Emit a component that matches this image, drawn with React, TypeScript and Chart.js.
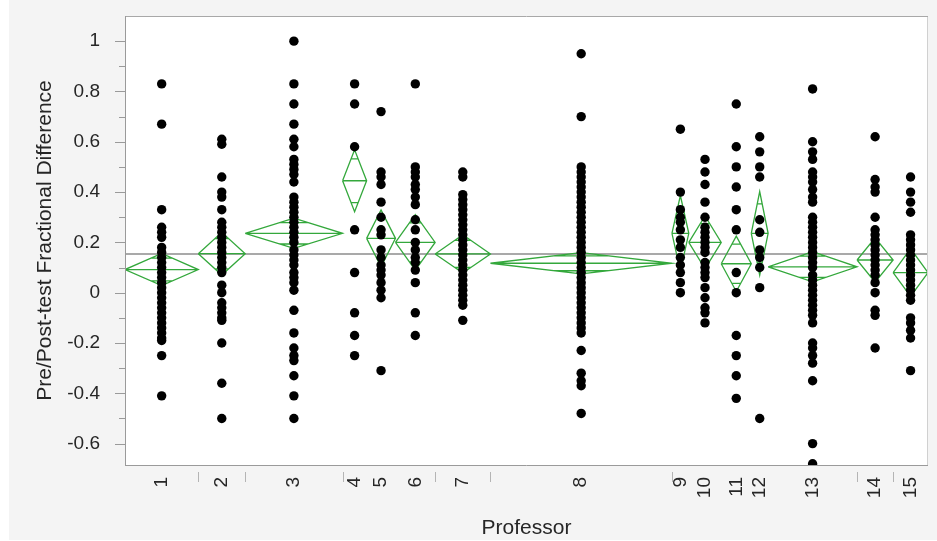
import React, { useEffect, useRef } from "react";
import { Chart, registerables } from "chart.js";

Chart.register(...registerables);

// ---- data ----
const professors = ["1", "2", "3", "4", "5", "6", "7", "8", "9", "10", "11", "12", "13", "14", "15"];
const groupCounts = [61, 39, 81, 20, 24, 33, 46, 151, 14, 27, 25, 14, 74, 30, 29];
const groupMeans = [0.092, 0.155, 0.236, 0.445, 0.216, 0.2, 0.154, 0.117, 0.236, 0.2, 0.115, 0.236, 0.103, 0.13, 0.08];
const ciHalfWidths = [0.064, 0.085, 0.06, 0.123, 0.113, 0.11, 0.076, 0.042, 0.15, 0.105, 0.11, 0.166, 0.06, 0.088, 0.095];
const grandMean = 0.154;

const p1 = [0.83, 0.67, 0.33, 0.26, 0.24, 0.22, 0.18, 0.16, 0.14, 0.12, 0.1, 0.08, 0.06, 0.04, 0.02, 0, -0.02, -0.04, -0.06, -0.08, -0.1, -0.12, -0.14, -0.16, -0.18, -0.19, -0.25, -0.41];
const p2 = [0.61, 0.59, 0.46, 0.4, 0.38, 0.33, 0.28, 0.26, 0.24, 0.22, 0.2, 0.18, 0.16, 0.14, 0.12, 0.1, 0.08, 0.03, 0, -0.04, -0.06, -0.08, -0.1, -0.11, -0.2, -0.36, -0.5];
const p3 = [1, 0.83, 0.75, 0.67, 0.61, 0.58, 0.53, 0.51, 0.49, 0.47, 0.44, 0.38, 0.36, 0.34, 0.32, 0.3, 0.28, 0.26, 0.24, 0.22, 0.2, 0.17, 0.15, 0.13, 0.11, 0.08, 0.06, 0.04, 0.01, -0.07, -0.16, -0.22, -0.25, -0.27, -0.33, -0.41, -0.5];
const p4 = [0.83, 0.75, 0.58, 0.25, 0.08, -0.08, -0.17, -0.25];
const p5 = [0.72, 0.48, 0.46, 0.43, 0.36, 0.3, 0.25, 0.23, 0.17, 0.14, 0.11, 0.09, 0.07, 0.04, 0.01, -0.02, -0.31];
const p6 = [0.83, 0.5, 0.48, 0.46, 0.43, 0.41, 0.38, 0.35, 0.29, 0.25, 0.2, 0.17, 0.14, 0.12, 0.09, 0.04, -0.08, -0.17];
const p7 = [0.48, 0.46, 0.39, 0.37, 0.35, 0.33, 0.31, 0.29, 0.27, 0.25, 0.23, 0.21, 0.19, 0.17, 0.15, 0.13, 0.11, 0.09, 0.07, 0.05, 0.03, 0.01, -0.01, -0.03, -0.05, -0.11];
const p8 = [0.95, 0.7, 0.5, 0.48, 0.46, 0.44, 0.42, 0.4, 0.38, 0.36, 0.34, 0.32, 0.3, 0.28, 0.26, 0.24, 0.22, 0.2, 0.18, 0.16, 0.14, 0.12, 0.1, 0.08, 0.06, 0.04, 0.02, 0, -0.02, -0.04, -0.06, -0.08, -0.1, -0.12, -0.14, -0.16, -0.23, -0.32, -0.35, -0.37, -0.48];
const p9 = [0.65, 0.4, 0.33, 0.3, 0.28, 0.25, 0.21, 0.18, 0.14, 0.11, 0.08, 0.04, 0];
const p10 = [0.53, 0.48, 0.43, 0.36, 0.3, 0.26, 0.24, 0.22, 0.2, 0.18, 0.16, 0.12, 0.1, 0.08, 0.06, 0.02, -0.02, -0.06, -0.08, -0.12];
const p11 = [0.75, 0.58, 0.5, 0.42, 0.33, 0.25, 0.08, 0, -0.17, -0.25, -0.33, -0.42];
const p12 = [0.62, 0.56, 0.5, 0.46, 0.29, 0.24, 0.17, 0.14, 0.1, 0.02, -0.5];
const p13 = [0.81, 0.6, 0.56, 0.53, 0.48, 0.46, 0.44, 0.41, 0.38, 0.36, 0.3, 0.28, 0.26, 0.24, 0.22, 0.2, 0.18, 0.16, 0.14, 0.12, 0.1, 0.07, 0.05, 0.03, 0.01, -0.01, -0.03, -0.05, -0.07, -0.09, -0.12, -0.2, -0.22, -0.25, -0.28, -0.35, -0.6, -0.68];
const p14 = [0.62, 0.45, 0.42, 0.4, 0.3, 0.25, 0.23, 0.21, 0.19, 0.17, 0.15, 0.13, 0.11, 0.09, 0.07, 0.04, 0, -0.07, -0.09, -0.22];
const p15 = [0.46, 0.4, 0.36, 0.32, 0.23, 0.21, 0.19, 0.17, 0.15, 0.13, 0.11, 0.09, 0.07, 0.05, 0.03, 0.01, -0.01, -0.03, -0.1, -0.12, -0.15, -0.18, -0.31];

const yTickValues = [-0.6, -0.4, -0.2, 0, 0.2, 0.4, 0.6, 0.8, 1];
const yMinorTickValues = [-0.5, -0.3, -0.1, 0.1, 0.3, 0.5, 0.7, 0.9];
const yMin = -0.685;
const yMax = 1.1;
const separatorAfterGroup = [1, 2, 3, 6, 7, 8, 13, 14];

const FONT = '"Liberation Sans", Arial, sans-serif';
const GREEN = "rgb(52,168,60)";

export default function App() {
  const canvasRef = useRef<HTMLCanvasElement | null>(null);

  useEffect(() => {
    const groupValues = [p1, p2, p3, p4, p5, p6, p7, p8, p9, p10, p11, p12, p13, p14, p15];
    const starts: number[] = [];
    let acc = 0;
    groupCounts.forEach((n) => {
      starts.push(acc);
      acc += n;
    });
    const total = acc;
    const centers = groupCounts.map((n, i) => starts[i] + n / 2);

    const points = groupValues.flatMap((vals, i) => vals.map((v) => ({ x: centers[i], y: v })));

    const diamond: any[] = [];
    groupCounts.forEach((n, i) => {
      const l = starts[i];
      const r = l + n;
      const c = centers[i];
      const m = groupMeans[i];
      const h = ciHalfWidths[i];
      const gap = { x: c, y: null };
      diamond.push({ x: l, y: m }, { x: c, y: m + h }, { x: r, y: m }, { x: c, y: m - h }, { x: l, y: m }, gap);
      diamond.push({ x: l, y: m }, { x: r, y: m }, gap);
      const k = h / Math.SQRT2;
      const hw = (n / 2) * (1 - 1 / Math.SQRT2);
      diamond.push({ x: c - hw, y: m + k }, { x: c + hw, y: m + k }, gap);
      diamond.push({ x: c - hw, y: m - k }, { x: c + hw, y: m - k }, gap);
    });

    const decor = {
      id: "decor",
      beforeDraw(chart: any) {
        const { ctx, chartArea: a } = chart;
        ctx.save();
        ctx.fillStyle = "#ffffff";
        ctx.fillRect(a.left, a.top, a.right - a.left, a.bottom - a.top);
        ctx.restore();
      },
      afterDraw(chart: any) {
        const { ctx, chartArea: a } = chart;
        const ys = chart.scales.y;
        const xs = chart.scales.x;
        ctx.save();
        ctx.lineWidth = 1;
        ctx.strokeStyle = "#d0d0d0";
        ctx.beginPath();
        ctx.moveTo(Math.round(a.right) - 0.5, a.top);
        ctx.lineTo(Math.round(a.right) - 0.5, a.bottom);
        ctx.stroke();
        ctx.strokeStyle = "#a8a8a8";
        ctx.beginPath();
        ctx.moveTo(a.left, Math.round(a.top) + 0.5);
        ctx.lineTo(a.right, Math.round(a.top) + 0.5);
        ctx.stroke();
        ctx.strokeStyle = "#9a9a9a";
        ctx.beginPath();
        ctx.moveTo(Math.round(a.left) + 0.5, a.top);
        ctx.lineTo(Math.round(a.left) + 0.5, a.bottom);
        ctx.moveTo(a.left, Math.round(a.bottom) + 0.5);
        ctx.lineTo(a.right, Math.round(a.bottom) + 0.5);
        ctx.stroke();
        ctx.strokeStyle = "#9a9a9a";
        ctx.beginPath();
        yTickValues.forEach((v) => {
          const y = Math.round(ys.getPixelForValue(v)) + 0.5;
          ctx.moveTo(a.left - 10, y);
          ctx.lineTo(a.left, y);
        });
        yMinorTickValues.forEach((v) => {
          const y = Math.round(ys.getPixelForValue(v)) + 0.5;
          ctx.moveTo(a.left - 6, y);
          ctx.lineTo(a.left, y);
        });
        ctx.stroke();
        ctx.strokeStyle = "#b4b4b4";
        ctx.beginPath();
        separatorAfterGroup.forEach((g) => {
          const x = Math.round(xs.getPixelForValue(starts[g])) + 0.5;
          ctx.moveTo(x, a.bottom + 7);
          ctx.lineTo(x, a.bottom + 17);
        });
        ctx.stroke();
        ctx.restore();
      },
    };

    const chart = new Chart(canvasRef.current as HTMLCanvasElement, {
      type: "scatter",
      data: {
        datasets: [
          {
            type: "scatter",
            data: points,
            pointRadius: 4.7,
            pointBackgroundColor: "#000",
            pointBorderWidth: 0,
            pointHoverRadius: 4.7,
          } as any,
          {
            type: "line",
            data: diamond,
            borderColor: GREEN,
            borderWidth: 1.3,
            pointRadius: 0,
            pointHoverRadius: 0,
            tension: 0,
            fill: false,
            spanGaps: false,
          } as any,
          {
            type: "line",
            data: [
              { x: 0, y: grandMean },
              { x: total, y: grandMean },
            ],
            borderColor: "#8c8c8c",
            borderWidth: 1.5,
            pointRadius: 0,
            pointHoverRadius: 0,
            fill: false,
          } as any,
        ],
      },
      options: {
        animation: false,
        responsive: false,
        events: [],
        layout: { padding: { left: 29, right: 9, top: 16, bottom: 0 } },
        plugins: { legend: { display: false }, tooltip: { enabled: false } },
        scales: {
          x: {
            type: "linear",
            min: 0,
            max: total,
            grid: { display: false },
            border: { display: false },
            afterBuildTicks: (s: any) => {
              s.ticks = centers.map((v) => ({ value: v }));
            },
            afterFit: (s: any) => {
              s.height = 76;
              s.paddingLeft = 0;
              s.paddingRight = 0;
              s.paddingTop = 0;
              s.paddingBottom = 0;
            },
            ticks: {
              autoSkip: false,
              minRotation: 90,
              maxRotation: 90,
              padding: 4,
              color: "#262626",
              font: { family: FONT, size: 19 },
              callback: (_v: any, i: number) => professors[i],
            },
            title: {
              display: true,
              text: "Professor",
              color: "#262626",
              font: { family: FONT, size: 21 },
              padding: { top: 0, bottom: 0 },
            },
          },
          y: {
            type: "linear",
            min: yMin,
            max: yMax,
            grid: { display: false },
            border: { display: false },
            afterBuildTicks: (s: any) => {
              s.ticks = yTickValues.map((v) => ({ value: v }));
            },
            afterFit: (s: any) => {
              s.width = 96;
              s.paddingLeft = 0;
              s.paddingRight = 0;
              s.paddingTop = 0;
              s.paddingBottom = 0;
            },
            ticks: {
              padding: 17,
              color: "#262626",
              font: { family: FONT, size: 19 },
              callback: (v: any) => String(Number(Number(v).toFixed(1))),
            },
            title: {
              display: true,
              text: "Pre/Post-test Fractional Difference",
              color: "#262626",
              font: { family: FONT, size: 21 },
              padding: { top: 4, bottom: 4 },
            },
          },
        },
      },
      plugins: [decor],
    } as any);

    return () => chart.destroy();
  }, []);

  return (
    <div style={{ position: "fixed", left: 0, top: 0, width: 937, height: 541, background: "#ffffff" }}>
      <div style={{ position: "absolute", left: 9, top: 0, width: 928, height: 540, background: "#f4f4f4" }} />
      <canvas ref={canvasRef} width={937} height={541} style={{ position: "absolute", left: 0, top: 0, width: 937, height: 541 }} />
    </div>
  );
}
